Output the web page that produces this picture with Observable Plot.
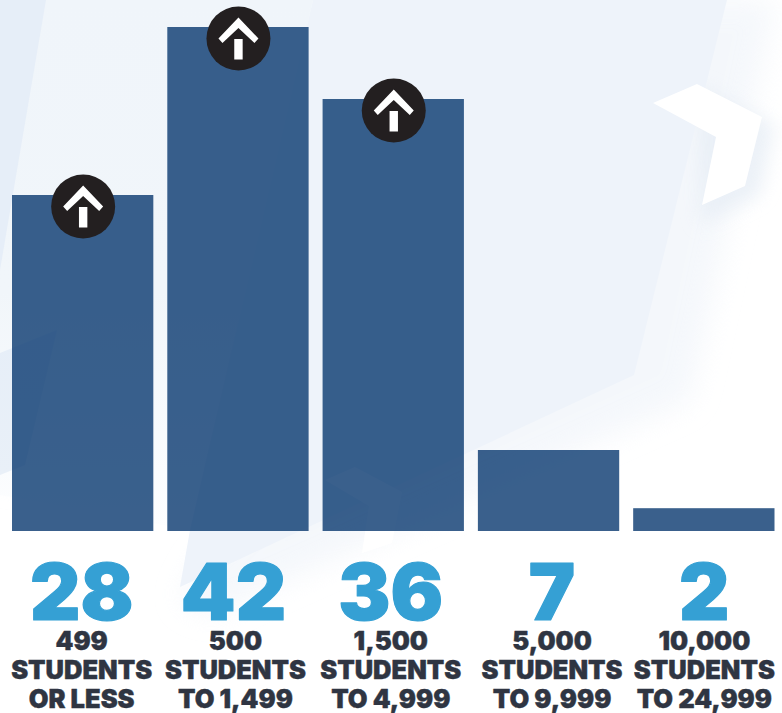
<!DOCTYPE html>
<html><head><meta charset="utf-8">
<script src="https://cdn.jsdelivr.net/npm/d3@7"></script>
<script src="https://cdn.jsdelivr.net/npm/@observablehq/plot@0.6"></script>
<style>
html,body{margin:0;padding:0;background:#fff;overflow:hidden}
#wrap{position:relative;width:782px;height:713px;overflow:hidden}
#bg{position:absolute;left:0;top:0}
#chart{position:absolute;left:0;top:0}
#chart svg{background:transparent!important;display:block}
</style></head><body>
<div id="wrap">
<svg id="bg" width="782" height="713" viewBox="0 0 782 713">
 <defs>
  <filter id="b1" x="-20%" y="-20%" width="140%" height="140%"><feGaussianBlur stdDeviation="14"/></filter>
  <filter id="b3" x="-30%" y="-30%" width="160%" height="160%"><feGaussianBlur stdDeviation="9"/></filter>
  <linearGradient id="fade" x1="0" y1="0" x2="0" y2="1">
    <stop offset="0" stop-color="#f0f5fa"/><stop offset="0.55" stop-color="#f1f6fa"/><stop offset="1" stop-color="#fdfeff"/>
  </linearGradient>
  <linearGradient id="fadeB" x1="0" y1="0" x2="0" y2="1">
    <stop offset="0" stop-color="#e6eef8"/><stop offset="1" stop-color="#e9f0f8"/>
  </linearGradient>
 </defs>
 <rect width="782" height="713" fill="#fff"/>
 <polygon points="60,0 775,0 690,400 210,615 180,600 200,560 300,480 0,480 0,0" fill="#eef3f9" opacity="0.6" filter="url(#b1)"/>
 <polygon points="697,84 775,125 760,195 700,225" fill="#e6edf5" opacity="0.75" filter="url(#b3)"/>
 <polygon points="46,0 313,0 190,530 0,495 0,0" fill="url(#fade)"/>
 <polygon points="313,0 727,0 634,375 180,587 190,530" fill="#eef3fa"/>
 <polygon points="0,0 46,0 0,270" fill="#e6eef8"/>
 <polygon points="0,353 57,330 25,465 0,475" fill="url(#fadeB)"/>
 <polygon points="653,103 697,84 762,117 745,186 702,205 716,137" fill="#fff"/>
 <polygon points="325,480 355,467 402,492 392,543 362,553 369,506" fill="#fff"/>
</svg>
<div id="chart"></div>
</div>
<script>
const bands = ["499 STUDENTS OR LESS","500 STUDENTS TO 1,499","1,500 STUDENTS TO 4,999","5,000 STUDENTS TO 9,999","10,000 STUDENTS TO 24,999"];
const counts = [28,42,36,7,2];
const barLengths = [28,42,36,6.75,1.9];
const arrowed = [true,true,true,false,false];
const line1 = ["499","500","1,500","5,000","10,000"];
const line2 = ["STUDENTS","STUDENTS","STUDENTS","STUDENTS","STUDENTS"];
const line3 = ["OR LESS","TO 1,499","TO 4,999","TO 9,999","TO 24,999"];
const numberNudge = [-1.5,-5,-3,3,0];
const labelNudge = [-1.5,-3,-3,3,0];

const rows = bands.map((b,i)=>({b,count:counts[i],len:barLengths[i],up:arrowed[i],l1:line1[i],l2:line2[i],l3:line3[i],nn:numberNudge[i],ln:labelNudge[i]}));
const arrowSymbol = {draw(c,size){
  const k = Math.sqrt(size/Math.PI)/32;
  const p = [[0,-21],[20,0],[16,4.6],[0,-10.4],[-16,4.6],[-20,0]];
  p.forEach(([x,y],i)=> i? c.lineTo(x*k,y*k): c.moveTo(x*k,y*k)); c.closePath();
  c.moveTo(-4.2*k,0.6*k); c.lineTo(4.2*k,0.6*k); c.lineTo(4.2*k,21*k); c.lineTo(-4.2*k,21*k); c.closePath();
}};
const font = "Inter, sans-serif";
const lab = (d,f,dy)=>Plot.text([d],{x:"b",y:()=>0,text:f,dx:d.ln,dy,fill:"#2f3542",fontSize:25.5,fontWeight:900,fontFamily:font,stroke:"#2f3542",strokeWidth:0.4,lineAnchor:"bottom"});
const up = rows.filter(d=>d.up);
const plot = Plot.plot({
  width:782,height:713,margin:0,
  x:{type:"band",domain:bands,range:[12,774.5],round:false,paddingInner:0.09,paddingOuter:0,axis:null},
  y:{domain:[0,42],range:[531,27],axis:null},
  style:{background:"transparent"},
  marks:[
    Plot.barY(rows,{x:"b",y:"len",fill:"#03336c",fillOpacity:0.78}),
    Plot.dot(up,{x:"b",y:"len",r:32,dy:11,fill:"#231f20"}),
    Plot.dot(up,{x:"b",y:"len",r:32,dy:11,symbol:arrowSymbol,fill:"#fff"}),
    rows.map(d=>Plot.text([d],{x:"b",y:()=>0,text:e=>String(e.count),dx:d.nn,dy:88,fill:"#35a0d4",fontSize:78,fontWeight:900,fontFamily:font,stroke:"#35a0d4",strokeWidth:1.2,lineAnchor:"bottom"})),
    rows.map(d=>[lab(d,"l1",118),lab(d,"l2",147),lab(d,"l3",176)])
  ]
});
document.getElementById("chart").appendChild(plot);
</script>
</body></html>
